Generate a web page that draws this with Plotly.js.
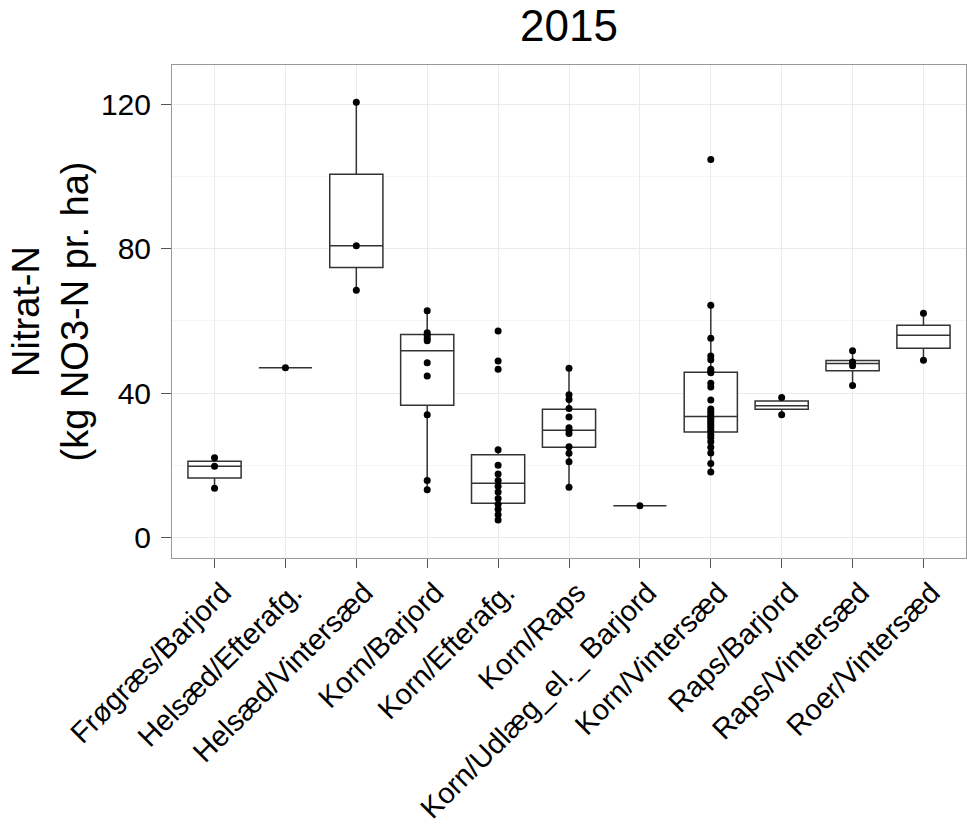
<!DOCTYPE html>
<html>
<head>
<meta charset="utf-8">
<script src="https://cdn.plot.ly/plotly-3.0.1.min.js"></script>
<style>html,body{margin:0;padding:0;background:#fff;}</style>
</head>
<body>
<div id="chart" style="width:967px;height:830px;"></div>
<script>
// Categories (x axis)
const categories = ['Frøgræs/Barjord','Helsæd/Efterafg.','Helsæd/Vintersæd','Korn/Barjord','Korn/Efterafg.','Korn/Raps','Korn/Udlæg_el._ Barjord','Korn/Vintersæd','Raps/Barjord','Raps/Vintersæd','Roer/Vintersæd'];

// Box statistics (kg NO3-N pr. ha)
const q1         = [16.5, 47.0, 74.8, 36.6,  9.5, 25.0, 8.8, 29.2, 35.5, 46.2, 52.4];
const median     = [19.7, 47.0, 80.8, 51.7, 15.0, 29.7, 8.8, 33.5, 36.5, 48.2, 56.0];
const q3         = [21.1, 47.0, 100.6, 56.2, 22.9, 35.5, 8.8, 45.8, 37.8, 49.0, 58.8];
const lowerfence = [13.6, 47.0, 68.5, 13.2,  4.8, 13.9, 8.8, 18.1, 34.0, 42.1, 49.1];
const upperfence = [22.1, 47.0, 120.6, 62.8, 24.3, 46.9, 8.8, 64.3, 38.8, 51.7, 62.1];

// Individual observations per category
const ptsFrogaesBarjord   = [13.6, 19.7, 22.1];
const ptsHelsaedEfterafg  = [47.0];
const ptsHelsaedVintersaed= [68.5, 80.8, 120.6];
const ptsKornBarjord      = [13.2, 15.8, 34.0, 44.7, 48.4, 54.5, 55.2, 56.0, 56.7, 62.8];
const ptsKornEfterafg     = [4.8, 6.3, 7.8, 9.2, 10.8, 12.6, 14.2, 15.8, 17.6, 20.0, 24.3, 46.6, 48.9, 57.2];
const ptsKornRaps         = [13.9, 21.0, 23.3, 25.1, 28.8, 29.7, 30.4, 33.4, 35.7, 38.2, 39.5, 46.9];
const ptsKornUdlaeg       = [8.8];
const ptsKornVintersaed   = [18.1, 20.5, 23.4, 25.0, 26.5, 27.6, 28.4, 29.2, 29.8, 30.5, 31.2, 31.8, 32.4, 33.0, 33.5, 34.2, 34.8, 35.6, 38.1, 41.7, 42.7, 45.6, 46.0, 46.6, 49.2, 50.3, 55.2, 64.3, 104.7];
const ptsRapsBarjord      = [34.0, 38.8];
const ptsRapsVintersaed   = [42.1, 47.6, 48.6, 51.7];
const ptsRoerVintersaed   = [49.1, 62.1];

const pointGroups = [ptsFrogaesBarjord, ptsHelsaedEfterafg, ptsHelsaedVintersaed, ptsKornBarjord,
  ptsKornEfterafg, ptsKornRaps, ptsKornUdlaeg, ptsKornVintersaed, ptsRapsBarjord, ptsRapsVintersaed, ptsRoerVintersaed];

const px = [], py = [];
pointGroups.forEach((g, i) => g.forEach(v => { px.push(categories[i]); py.push(v); }));

const FONT = 'Liberation Sans, Arial, Helvetica, sans-serif';

const boxTrace = {
  type: 'box',
  x: categories,
  q1: q1, median: median, q3: q3,
  lowerfence: lowerfence, upperfence: upperfence,
  boxpoints: false,
  width: 0.75,
  whiskerwidth: 0,
  fillcolor: 'white',
  line: {color: '#333333', width: 1.5},
  hoverinfo: 'skip',
  showlegend: false
};

const pointTrace = {
  type: 'scatter',
  mode: 'markers',
  x: px, y: py,
  marker: {color: 'black', size: 7},
  showlegend: false,
  cliponaxis: false
};

const layout = {
  width: 967, height: 830,
  margin: {l: 172, r: 1, t: 65, b: 272},
  paper_bgcolor: 'white',
  plot_bgcolor: 'white',
  showlegend: false,
  font: {family: FONT, color: 'black'},
  title: {
    text: '2015',
    font: {family: FONT, size: 44, color: 'black'},
    x: 0.5, xref: 'paper', xanchor: 'center',
    y: 1 - 26/830, yref: 'container', yanchor: 'middle'
  },
  xaxis: {
    type: 'category',
    categoryorder: 'array', categoryarray: categories,
    range: [-0.6, 10.6],
    tickangle: -45,
    tickfont: {family: FONT, size: 29, color: 'black'},
    ticks: 'outside', ticklen: 9, tickwidth: 1, tickcolor: '#555555',
    ticklabelshift: 8,
    ticklabelstandoff: -4,
    showgrid: true, gridcolor: '#ebebeb', gridwidth: 1,
    showline: true, mirror: true, linecolor: '#999999', linewidth: 1,
    zeroline: false,
    automargin: false
  },
  yaxis: {
    range: [-5.7, 130.9],
    tickmode: 'linear', tick0: 0, dtick: 40,
    tickfont: {family: FONT, size: 30, color: 'black'},
    ticks: 'outside', ticklen: 10, tickwidth: 1, tickcolor: '#555555',
    ticklabelstandoff: 4,
    showgrid: true, gridcolor: '#ebebeb', gridwidth: 1,
    minor: {tick0: 0, dtick: 20, showgrid: true, gridcolor: '#f5f5f5', gridwidth: 1, ticks: ''},
    showline: true, mirror: true, linecolor: '#999999', linewidth: 1,
    zeroline: false,
    automargin: false,
    title: {
      text: 'Nitrat-N<br>(kg NO3-N pr. ha)',
      font: {family: FONT, size: 38, color: 'black'},
      standoff: 0
    }
  }
};

Plotly.newPlot('chart', [boxTrace, pointTrace], layout, {displayModeBar: false, staticPlot: true});
</script>
</body>
</html>
